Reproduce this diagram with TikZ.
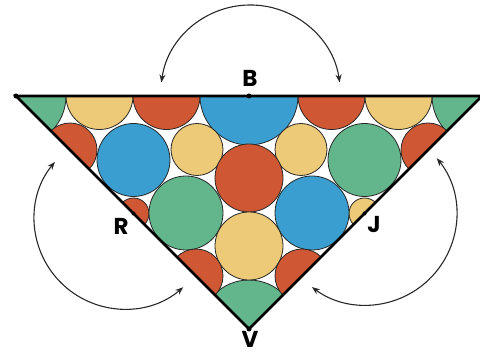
\documentclass[tikz,border=0pt]{standalone}
\usepackage{fontspec}
\newfontfamily\lblfont{Poppins}
\usetikzlibrary{arrows.meta,calc}
\definecolor{cgreen}{RGB}{99,181,140}
\definecolor{cyellow}{RGB}{237,202,120}
\definecolor{cred}{RGB}{207,87,52}
\definecolor{cblue}{RGB}{58,159,208}
\definecolor{cline}{RGB}{40,40,40}
\begin{document}
\begin{tikzpicture}[x=1pt,y=1pt,
  disc/.style={draw=cline,line width=0.8pt},
  side/.style={line width=2.6pt,line join=miter},
  pt/.style={circle,fill=black,inner sep=0pt,minimum size=5pt},
  lbl/.style={inner sep=0pt,font=\lblfont\bfseries\fontsize{23}{23}\selectfont},
  arr/.style={line width=1.1pt,draw=cline,{Stealth[length=8pt,width=6pt]}-{Stealth[length=8pt,width=6pt]}}]
\useasboundingbox (0,0) rectangle (480,356);
\coordinate (Lv) at (16,260);
\coordinate (Rv) at (482,260);
\coordinate (Vv) at (249,27);
\begin{scope}
\clip (Lv) -- (Rv) -- (Vv) -- cycle;
% corner sectors
\draw[disc,fill=cgreen] (Lv) circle (50);
\draw[disc,fill=cgreen] (Rv) circle (50);
\draw[disc,fill=cgreen] (Vv) circle (49);
% top row
\draw[disc,fill=cyellow] (99.5,260) circle (33.5);
\draw[disc,fill=cred] (166.5,260) circle (33.5);
\draw[disc,fill=cblue] (249,260) circle (49);
\draw[disc,fill=cred] (331.5,260) circle (33.5);
\draw[disc,fill=cyellow] (398.5,260) circle (33.5);
% second row
\draw[disc,fill=cred] (70,206) circle (27);
\draw[disc,fill=cred] (428,206) circle (27);
\draw[disc,fill=cblue] (133.5,196) circle (36.5);
\draw[disc,fill=cgreen] (364.5,196) circle (36.5);
\draw[disc,fill=cyellow] (197,206.5) circle (26);
\draw[disc,fill=cyellow] (301,206.5) circle (26);
\draw[disc,fill=cred] (249,178) circle (34);
% third row
\draw[disc,fill=cred] (133.5,142.5) circle (15.5);
\draw[disc,fill=cyellow] (364.5,142.5) circle (15.5);
\draw[disc,fill=cgreen] (186,143) circle (37);
\draw[disc,fill=cblue] (312,143) circle (37);
% fourth row
\draw[disc,fill=cyellow] (249,110) circle (34);
\draw[disc,fill=cred] (196,80) circle (27);
\draw[disc,fill=cred] (302,80) circle (27);
\end{scope}
\draw[side] (Lv) -- (Rv) -- (Vv) -- cycle;
% points
\node[pt] (pL) at (Lv) {};
\node[pt] (pB) at (249,260) {};
\node[pt] (pV) at (Vv) {};
\node[pt,minimum size=4pt] (pR) at (133.5,142.5) {};
\node[pt,minimum size=4pt] (pJ) at (364.5,142.5) {};
% labels
\node[lbl] (tB) at (250,278) {B};
\node[lbl] (tR) at (121,130) {R};
\node[lbl] (tJ) at (374,131) {J};
\node[lbl] (tV) at (250,17) {V};
% arcs
\coordinate (cT) at (250.5,261);
\coordinate (cL) at (124.5,137);
\coordinate (cR) at (366,141.5);
\draw[arr] ([shift={(172:90)}]cT) arc[start angle=172,end angle=8,radius=90];
\draw[arr] ([shift={(140.6:90)}]cL) arc[start angle=140.6,end angle=310.7,radius=90];
\draw[arr] ([shift={(38.5:90.5)}]cR) arc[start angle=38.5,end angle=-126.7,radius=90.5];
\end{tikzpicture}
\end{document}
